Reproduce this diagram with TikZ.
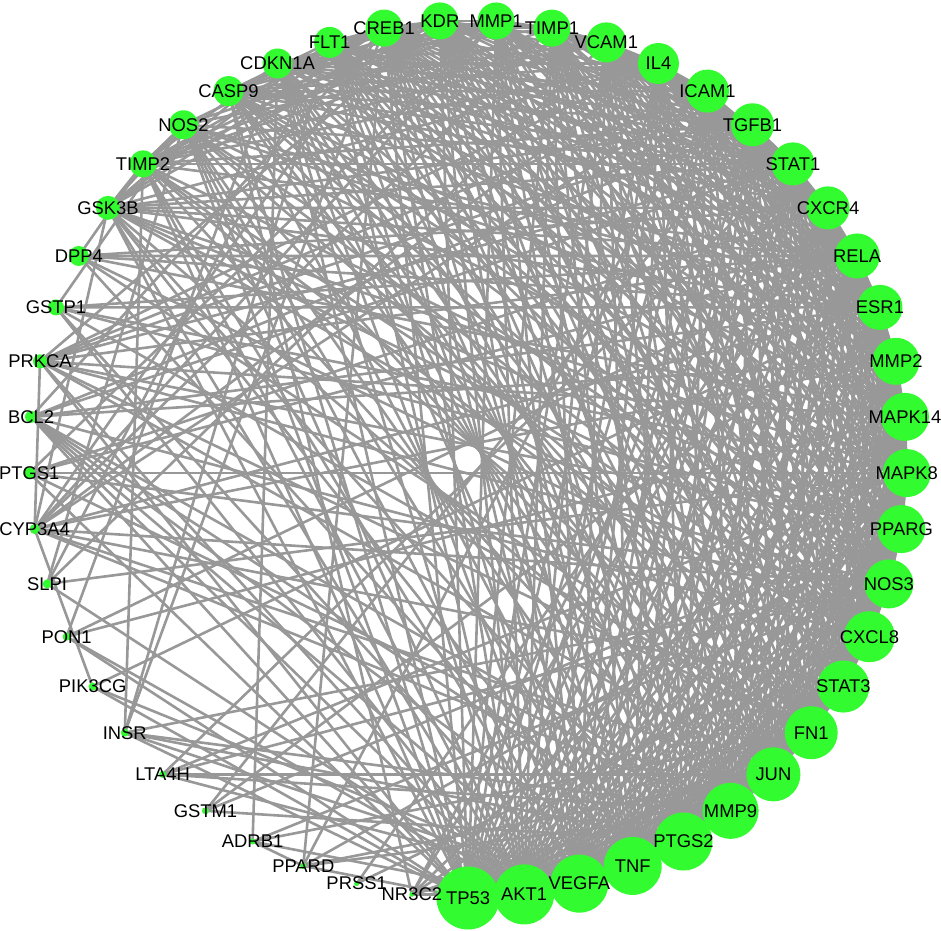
\documentclass[tikz,border=0pt]{standalone}
\usepackage{fontspec}
\setmainfont{Liberation Sans}
\pgfdeclarelayer{background}
\pgfsetlayers{background,main}
\definecolor{nodegreen}{RGB}{50,252,48}
\definecolor{edgegray}{RGB}{152,152,152}
\begin{document}
\begin{tikzpicture}[x=1pt,y=-1pt,
  gene/.style={circle, fill=nodegreen, draw=none, inner sep=0pt, minimum size=#1},
  genelabel/.style={text=black, inner sep=0pt, font=\fontsize{18.4}{20}\selectfont},
  edge/.style={draw=edgegray, line width=2.6pt}]
\useasboundingbox (0,0) rectangle (941,930);
% nodes
\foreach \nm/\sz [count=\k from 0] in {TP53/63,AKT1/60,VEGFA/58,TNF/58,PTGS2/58,MMP9/56,JUN/54,FN1/53,STAT3/52,CXCL8/51,NOS3/49,PPARG/48,MAPK8/48,MAPK14/48,MMP2/47,ESR1/45,RELA/45,CXCR4/43,STAT1/43,TGFB1/43,ICAM1/43,IL4/41,VCAM1/40,TIMP1/37,MMP1/37,KDR/37,CREB1/37,FLT1/31,CDKN1A/30,CASP9/30,NOS2/29,TIMP2/27,GSK3B/24,DPP4/20,GSTP1/16,PRKCA/14,BCL2/12,PTGS1/12,CYP3A4/10,SLPI/9,PON1/8,PIK3CG/8,INSR/8,LTA4H/7,GSTM1/7,ADRB1/6,PPARD/6,PRSS1/5,NR3C2/5}{
  \pgfmathsetmacro\ang{-90+\k*7.34694}
  \node[gene=\sz pt, label={[genelabel]center:\nm}] (\nm) at ({468+439*cos(\ang)},{459-439*sin(\ang)}) {};
  \expandafter\xdef\csname gsz\k\endcsname{\sz}
  \expandafter\xdef\csname gnm\k\endcsname{\nm}
}
% edges
\pgfmathsetseed{11}
\begin{pgfonlayer}{background}
\foreach \i in {0,...,47}{
  \pgfmathtruncatemacro\js{\i+1}
  \foreach \j in {\js,...,48}{
    \edef\si{\csname gsz\i\endcsname}
    \edef\sj{\csname gsz\j\endcsname}
    \pgfmathsetmacro\p{((\si-4)/1.3+2.5)*((\sj-4)/1.3+2.5)/1216}
    \pgfmathsetmacro\r{rnd}
    \pgfmathtruncatemacro\ok{\r<\p}
    \ifnum\ok=1
      \edef\na{\csname gnm\i\endcsname}
      \edef\nb{\csname gnm\j\endcsname}
      \draw[edge] (\na.center) -- (\nb.center);
    \fi
  }
}
\end{pgfonlayer}
\end{tikzpicture}
\end{document}
